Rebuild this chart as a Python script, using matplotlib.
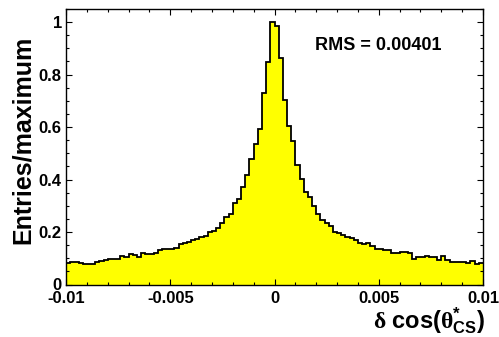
import numpy as np
import matplotlib
matplotlib.use("Agg")
import matplotlib.pyplot as plt
from matplotlib.ticker import MultipleLocator, FixedLocator

plt.rcParams['font.family'] = ['Liberation Sans', 'DejaVu Sans']
plt.rcParams['font.weight'] = 'bold'
plt.rcParams['mathtext.fontset'] = 'custom'
plt.rcParams['mathtext.rm'] = 'Liberation Serif'
plt.rcParams['mathtext.it'] = 'Liberation Serif:italic'
plt.rcParams['mathtext.bf'] = 'Liberation Sans:bold'
plt.rcParams['mathtext.sf'] = 'Liberation Sans:bold'

# Histogram range and normalised bin contents (100 bins)
x_min, x_max = -0.01, 0.01
n_bins = 100
values = [
    0.083, 0.084, 0.084, 0.082, 0.078, 0.077, 0.079, 0.085, 0.088, 0.095,
    0.096, 0.098, 0.099, 0.110, 0.105, 0.117, 0.113, 0.104, 0.119, 0.118,
    0.117, 0.120, 0.130, 0.136, 0.134, 0.135, 0.141, 0.153, 0.158, 0.163,
    0.170, 0.174, 0.180, 0.186, 0.199, 0.204, 0.216, 0.233, 0.256, 0.267,
    0.309, 0.326, 0.373, 0.417, 0.478, 0.537, 0.594, 0.731, 0.849, 1.000,
    0.987, 0.862, 0.705, 0.603, 0.546, 0.456, 0.402, 0.354, 0.332, 0.300,
    0.270, 0.245, 0.233, 0.224, 0.199, 0.195, 0.188, 0.180, 0.177, 0.169,
    0.157, 0.155, 0.160, 0.146, 0.137, 0.136, 0.131, 0.130, 0.120, 0.119,
    0.124, 0.122, 0.121, 0.099, 0.106, 0.104, 0.109, 0.104, 0.104, 0.094,
    0.108, 0.092, 0.086, 0.086, 0.086, 0.087, 0.082, 0.089, 0.080, 0.082,
]
x_ticks = [-0.01, -0.005, 0.0, 0.005, 0.01]
x_tick_labels = ["-0.01", "-0.005", "0", "0.005", "0.01"]
y_ticks = [0.0, 0.2, 0.4, 0.6, 0.8, 1.0]
y_tick_labels = ["0", "0.2", "0.4", "0.6", "0.8", "1"]
rms_text = "RMS = 0.00401"

edges = np.linspace(x_min, x_max, n_bins + 1)

fig = plt.figure(figsize=(4.99, 3.37), dpi=100)
ax = fig.add_axes([66 / 499, 1 - 284.5 / 337, 417 / 499, 275.5 / 337])

ax.stairs(values, edges, fill=True, color='#ffff00', baseline=0)
ax.stairs(values, edges, fill=False, color='black', linewidth=1.3, baseline=None)

ax.set_xlim(x_min, x_max)
ax.set_ylim(0, 1.05)

ax.xaxis.set_major_locator(FixedLocator(x_ticks))
ax.set_xticklabels(x_tick_labels)
ax.xaxis.set_minor_locator(MultipleLocator(0.001))
ax.yaxis.set_major_locator(FixedLocator(y_ticks))
ax.set_yticklabels(y_tick_labels)
ax.yaxis.set_minor_locator(MultipleLocator(0.05))

ax.tick_params(which='both', direction='in', top=True, right=True,
               labelsize=12, width=0.8)
ax.tick_params(which='major', length=4.5)
ax.tick_params(which='minor', length=2.5)
ax.tick_params(axis='x', pad=5)
ax.tick_params(axis='y', pad=3)
for lab in ax.get_xticklabels() + ax.get_yticklabels():
    lab.set_fontweight('bold')
for sp in ax.spines.values():
    sp.set_linewidth(1.0)

fig.text(23 / 499, 1 - 140 / 337, "Entries/maximum", rotation=90,
         fontsize=18, fontweight='bold', ha='center', va='center')

fig.text(485 / 499, 1 - 321 / 337,
         r"$\mathrm{\delta}$ cos($\mathrm{\theta}^{\mathbf{*}}_{\mathbf{CS}}$)",
         fontsize=17, fontweight='bold', ha='right', va='center')

ax.text(0.597, 0.852, rms_text, transform=ax.transAxes,
        fontsize=13, fontweight='bold', ha='left', va='baseline')

fig.savefig("out.png", dpi=100)
